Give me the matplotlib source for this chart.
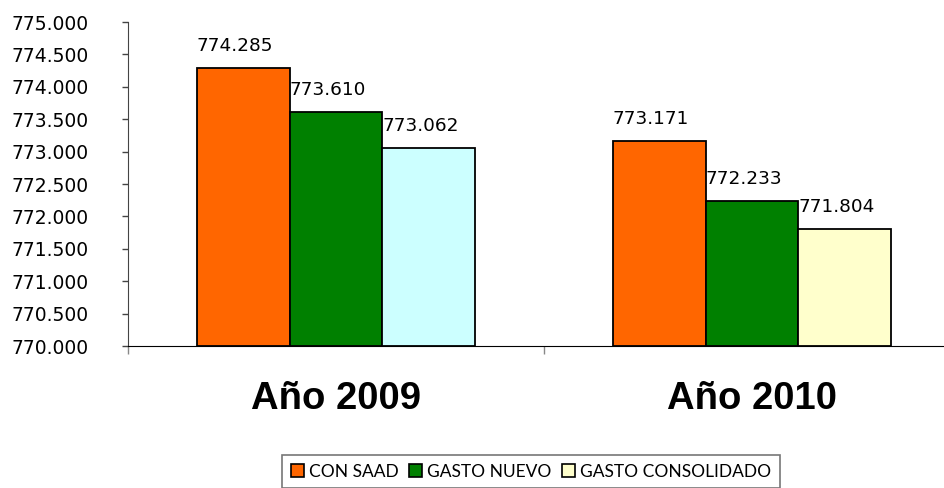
import matplotlib.pyplot as plt
import numpy as np
from matplotlib.patches import Patch

# data
years = ['Año 2009', 'Año 2010']
series = ['CON SAAD', 'GASTO NUEVO', 'GASTO CONSOLIDADO']
con_saad = [774.285, 773.171]
gasto_nuevo = [773.610, 772.233]
gasto_consolidado = [773.062, 771.804]
y_ticks = np.arange(770.0, 775.01, 0.5)

def fmt(v):
    return '{:.3f}'.format(v)

fig = plt.figure(figsize=(9.45, 4.88), dpi=100)
ax = fig.add_axes([128/945, 1 - 346/488, 832/945, 324/488])

x = np.arange(len(years))
w = 0.2235
cols = [['#FF6600', '#FF6600'], ['#008000', '#008000'], ['#CCFFFF', '#FFFFCC']]
vals = [con_saad, gasto_nuevo, gasto_consolidado]

for i, v in enumerate(vals):
    xs = x + (i - 1) * w
    ax.bar(xs, np.array(v) - 770.0, width=w, bottom=770.0,
           color=cols[i], edgecolor='black', linewidth=1.3, zorder=3)
    for xx, vv in zip(xs, v):
        ax.annotate(fmt(vv), (xx, vv), xytext=(-8, 22), textcoords='offset pixels',
                    ha='center', va='center', fontsize=13.3, family='DejaVu Sans')

ax.set_ylim(770.0, 775.0)
ax.set_xlim(-0.5, 1.5)
ax.set_yticks(y_ticks)
ax.set_yticklabels([fmt(t) for t in y_ticks], fontsize=13.5, family='DejaVu Sans')
ax.tick_params(axis='y', direction='out', length=4.5, width=1, pad=24, color='#444444')

ax.set_xticks([-0.5, 0.5, 1.5])
ax.set_xticklabels([])
ax.tick_params(axis='x', which='major', direction='out', length=6, width=1, color='#888888')
ax.set_xticks(x, minor=True)
ax.set_xticklabels(years, minor=True, fontsize=27.5, fontweight='bold', family='Liberation Sans')
ax.tick_params(axis='x', which='minor', length=0, pad=25)

for s in ['top', 'right']:
    ax.spines[s].set_visible(False)
ax.spines['left'].set_color('#444444')
ax.spines['bottom'].set_color('black')
ax.spines['left'].set_bounds(770.0, 775.0)

handles = [Patch(facecolor=c, edgecolor='black', linewidth=1.2)
           for c in ['#FF6600', '#008000', '#FFFFCC']]
leg = fig.legend(handles, series, loc='upper center', bbox_to_anchor=(531/945, 1 - 455/488),
                 ncol=3, frameon=True, fancybox=False, edgecolor='#555555',
                 prop={'family': 'Lato', 'size': 12.5}, handlelength=0.75, handleheight=0.75,
                 handletextpad=0.3, columnspacing=0.6, borderpad=0.5, borderaxespad=0)
leg.get_frame().set_linewidth(1.2)

fig.savefig('out.png', dpi=100)
